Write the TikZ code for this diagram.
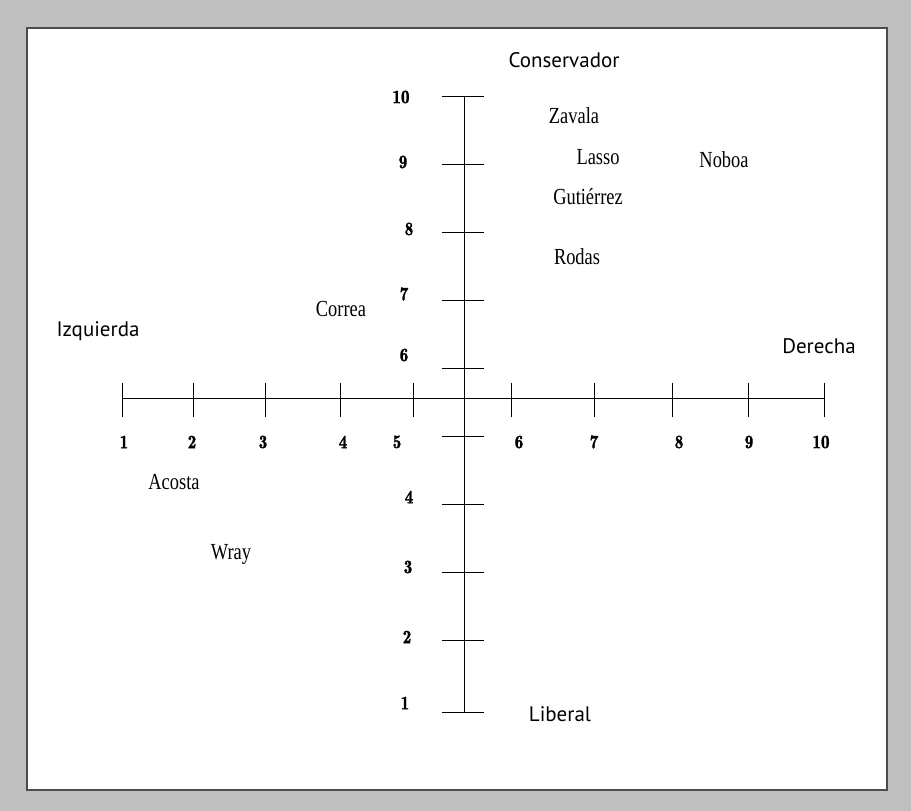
\documentclass[tikz,border=0pt]{standalone}
\usepackage{fontspec}
\setsansfont{PT Sans}
\newfontfamily\namefont[FakeStretch=0.8]{Liberation Serif}
\newfontfamily\numfont[FakeBold=1.5,FakeStretch=0.9]{Latin Modern Roman Demi}
\usetikzlibrary{positioning}
\tikzset{
        % Axis lines and ticks
        axis_line/.style={draw=black, line width=1pt},
        % Pole labels at the ends of the axes
        pole_label/.style={font=\sffamily\fontsize{21}{24}\selectfont, inner sep=0pt},
        % Scale numbers
        scale_num/.style={font=\numfont\fontsize{19}{21}\selectfont, inner sep=0pt},
        % Names of the politicians
        name_label/.style={font=\namefont\fontsize{23}{25}\selectfont, inner sep=0pt}
}
\begin{document}
\begin{tikzpicture}[x=1pt, y=-1pt]
    % frame
    \fill[gray!50] (0,0) rectangle (911,811);
    \useasboundingbox (0,0) rectangle (911,811);
    \filldraw[fill=white, draw=black!70, line width=1.2pt] (27,28) rectangle (887,790);

    % axes
    \coordinate (left) at (122,398);
    \coordinate (right) at (824,398);
    \coordinate (top) at (464,96);
    \coordinate (bottom) at (464,712);
    \draw[axis_line] (left) -- (right);
    \draw[axis_line] (top) -- (bottom);

    % ticks on the horizontal axis
    \foreach \x/\lx/\n in {122/124/1, 193/192/2, 265/263/3, 340/343/4, 413/397/5,
                           511/519/6, 594/594/7, 672/679/8, 748/749/9, 824/821/10} {
        \draw[axis_line] (\x,383) -- (\x,417);
        \node[scale_num] (h\n) at (\lx,442) {\n};
    }

    % ticks on the vertical axis
    \foreach \y/\n in {96/10, 164/9, 232/8, 300/7, 368/6, 436/5, 504/4, 572/3, 640/2, 712/1} {
        \draw[axis_line] (442,\y) -- (484,\y);
    }
    \foreach \lx/\ly/\n in {401/97/10, 403/162/9, 409/229/8, 404/294/7, 404/355/6,
                            409/497/4, 408/567/3, 407/637/2, 405/703/1} {
        \node[scale_num] (v\n) at (\lx,\ly) {\n};
    }

    % poles
    \node[pole_label] (cons) at (564,60) {Conservador};
    \node[pole_label] (lib) at (560,714) {Liberal};
    \node[pole_label] (izq) at (98,331) {Izquierda};
    \node[pole_label] (der) at (819,346) {Derecha};

    % politicians
    \node[name_label] (zavala) at (574,116) {Zavala};
    \node[name_label] (lasso) at (598,157) {Lasso};
    \node[name_label] (gutierrez) at (588,197) {Gutiérrez};
    \node[name_label] (rodas) at (577,257) {Rodas};
    \node[name_label] (noboa) at (724,160) {Noboa};
    \node[name_label] (correa) at (341,309) {Correa};
    \node[name_label] (acosta) at (174,482) {Acosta};
    \node[name_label] (wray) at (231,554) {Wray};
\end{tikzpicture}
\end{document}
